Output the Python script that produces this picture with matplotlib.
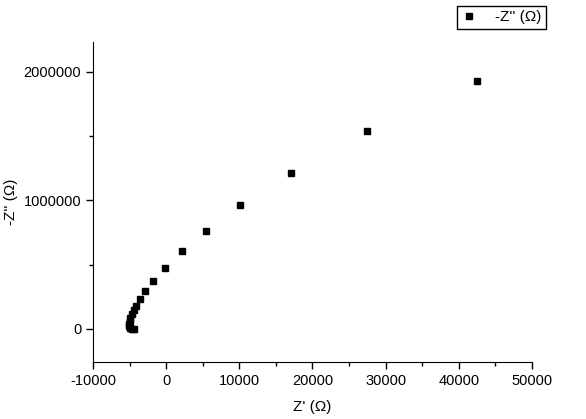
import matplotlib.pyplot as plt
from matplotlib.ticker import MultipleLocator

plt.rcParams['font.family'] = ['Liberation Sans', 'DejaVu Sans']
plt.rcParams['axes.unicode_minus'] = False

# Nyquist data
z_real = [42480, 27400, 17060, 10090, 5440, 2160, -160, -1760, -2890, -3580, -4120,
          -4400, -4670, -4880, -5010, -5080, -5080, -4940, -4670, -4330]
z_imag = [1930000, 1535000, 1214000, 965000, 763000, 603000, 477000, 374000, 296000,
          233000, 179000, 148000, 117000, 86000, 62000, 39000, 19000, 8000, 2000, 500]

fig = plt.figure(figsize=(5.86, 4.19), dpi=100)
ax = fig.add_axes([0.1587, 0.136, 0.7491, 0.7638])

ax.plot(z_real, z_imag, 's', color='black', ms=5, label="-Z'' (Ω)")

ax.set_xlim(-10000, 50000)
ax.set_ylim(-257000, 2230000)
ax.xaxis.set_major_locator(MultipleLocator(10000))
ax.xaxis.set_minor_locator(MultipleLocator(5000))
ax.yaxis.set_major_locator(MultipleLocator(1000000))
ax.yaxis.set_minor_locator(MultipleLocator(500000))
ax.ticklabel_format(style='plain')

for s in ['top', 'right']:
    ax.spines[s].set_visible(False)
ax.tick_params(which='major', length=5, width=1, labelsize=10.5)
ax.tick_params(which='minor', length=3, width=1)

ax.set_xlabel("Z' (Ω)", fontsize=11, labelpad=9)
ax.set_ylabel("-Z'' (Ω)", fontsize=11, labelpad=4)

leg = fig.legend(loc='upper right', bbox_to_anchor=(0.9317, 0.9866), borderaxespad=0,
                 fontsize=11, fancybox=False, edgecolor='black', framealpha=1,
                 handlelength=1.0, borderpad=0.3, handletextpad=1.2)
leg.get_frame().set_linewidth(1)

fig.savefig('out.png', dpi=100)
